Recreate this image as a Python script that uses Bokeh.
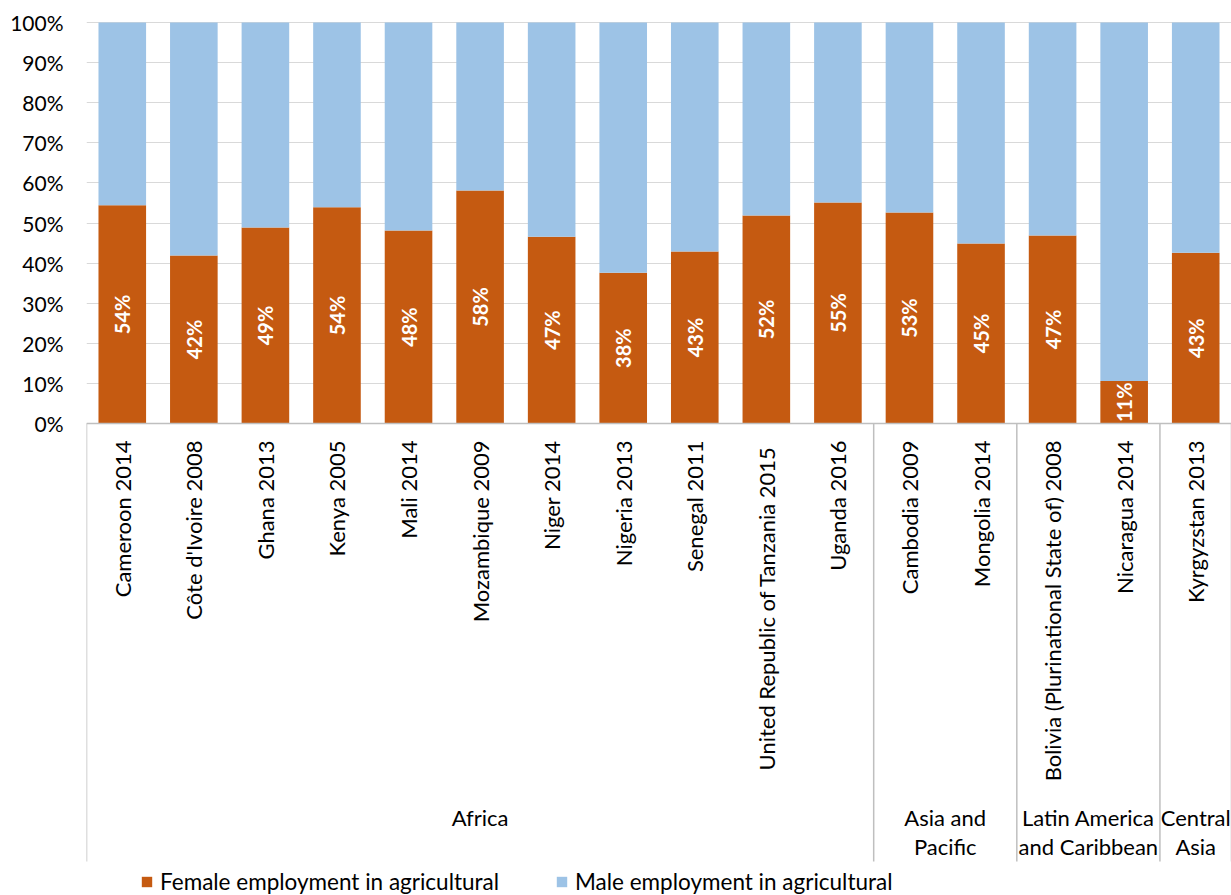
from bokeh.plotting import figure
from bokeh.models import (Range1d, FixedTicker, Legend, LegendItem, ColumnDataSource,
                          CustomJSTickFormatter)
from bokeh.core.properties import value
from bokeh.embed import file_html
from bokeh.resources import INLINE
import math

# ---------------- data ----------------
countries = ["Cameroon 2014", "Côte d'Ivoire 2008", "Ghana 2013", "Kenya 2005", "Mali 2014",
             "Mozambique 2009", "Niger 2014", "Nigeria 2013", "Senegal 2011",
             "United Republic of  Tanzania 2015", "Uganda 2016", "Cambodia 2009",
             "Mongolia 2014", "Bolivia (Plurinational State of) 2008", "Nicaragua 2014",
             "Kyrgyzstan 2013"]
female = [54.4, 41.9, 48.9, 53.9, 48.1, 58.1, 46.6, 37.6, 42.9, 51.9, 55.1, 52.6, 44.9, 46.9, 10.6, 42.6]
male = [45.6, 58.1, 51.1, 46.1, 51.9, 41.9, 53.4, 62.4, 57.1, 48.1, 44.9, 47.4, 55.1, 53.1, 89.4, 57.4]
regions = ["Africa", "Asia and\nPacific", "Latin America\nand Caribbean", "Central\nAsia"]
region_sizes = [11, 2, 2, 1]
y_ticks = [0, 10, 20, 30, 40, 50, 60, 70, 80, 90, 100]

FEMALE_C = "#C55A11"
MALE_C = "#9DC3E6"
FONT = "Lato"

# ---------------- geometry (pixels -> data) ----------------
W, H = 1231, 895
top_px, left_px = 20, 86
zero_px, hundred_px = 423, 22
ppu = (zero_px - hundred_px) / 100.0          # px per percent
y_end = 100 + (hundred_px - top_px) / ppu
y_start = y_end - (H - top_px) / ppu

def ydata(px):
    return (zero_px - px) / ppu

n = len(countries)
xs = [i + 0.5 for i in range(n)]

p = figure(width=W, height=H, output_backend="svg", toolbar_location=None,
           x_range=Range1d(0, n), y_range=Range1d(y_start, y_end),
           x_axis_location=None, min_border_left=left_px, min_border_top=top_px,
           min_border_bottom=0, min_border_right=0, tools="")
p.outline_line_color = None
p.xgrid.visible = False

# y axis
yax = p.yaxis[0]
yax.ticker = FixedTicker(ticks=y_ticks)
yax.bounds = (0, 100)
yax.formatter = CustomJSTickFormatter(code="return tick.toFixed(0) + '%';")
yax.axis_line_color = None
yax.major_tick_line_color = None
yax.minor_tick_line_color = None
yax.major_tick_in = 0
yax.major_tick_out = 0
yax.major_label_standoff = 23
yax.major_label_text_font = FONT
yax.major_label_text_font_size = "21px"
yax.major_label_text_color = "#000000"

p.ygrid.ticker = FixedTicker(ticks=y_ticks)
p.ygrid.bounds = (0, 100)
p.ygrid.grid_line_color = "#d9d9d9"
p.ygrid.grid_line_width = 1.2

# bars
src = ColumnDataSource(dict(x=xs, female=female, male=male,
                            total=[f + m for f, m in zip(female, male)],
                            lab_y=[f / 2 for f in female],
                            lab=["%d%%" % int(math.floor(f + 0.5)) for f in female],
                            country=countries))
bw = 47.6 / ((W - left_px) / n)
r_f = p.vbar(x="x", top="female", bottom=0, width=bw, source=src,
             fill_color=FEMALE_C, line_color=None)
r_m = p.vbar(x="x", top="total", bottom="female", width=bw, source=src,
             fill_color=MALE_C, line_color=None)

# data labels
p.text(x="x", y="lab_y", text="lab", source=src, angle=math.pi / 2,
       text_align="center", text_baseline="middle", text_color="white",
       text_font=value(FONT), text_font_style="bold", text_font_size="20px")

# category axis lines and separators
p.segment(x0=0, y0=0, x1=n, y1=0, line_color="#bfbfbf", line_width=1.5)
bounds = [0]
for s in region_sizes:
    bounds.append(bounds[-1] + s)
p.segment(x0=bounds, y0=[0] * len(bounds), x1=bounds, y1=[ydata(861)] * len(bounds),
          line_color="#bfbfbf", line_width=1.5)

# country labels
p.text(x="x", y=ydata(440), text="country", source=src, angle=math.pi / 2,
       text_align="right", text_baseline="middle", text_color="#000000",
       text_font=value(FONT), text_font_size="22px")

# region labels
rx = [(bounds[i] + bounds[i + 1]) / 2 for i in range(len(regions))]
p.text(x=rx, y=[ydata(803)] * len(rx), text=regions, text_align="center",
       text_baseline="top", text_color="#000000", text_font=value(FONT),
       text_font_size="22px", text_line_height=1.08)

# legends
for rend, lab, xloc in [(r_f, "Female employment in agricultural", 140 - left_px),
                        (r_m, "Male employment in agricultural", 555 - left_px)]:
    lg = Legend(items=[LegendItem(label=lab, renderers=[rend])], location=(xloc, 0),
                orientation="horizontal", glyph_width=13, glyph_height=13,
                label_text_font=FONT, label_text_font_size="22.5px", label_standoff=7,
                padding=0, margin=0, border_line_color=None, background_fill_alpha=0,
                label_text_color="#000000")
    p.add_layout(lg)

open("out.html", "w").write(file_html(p, INLINE))
